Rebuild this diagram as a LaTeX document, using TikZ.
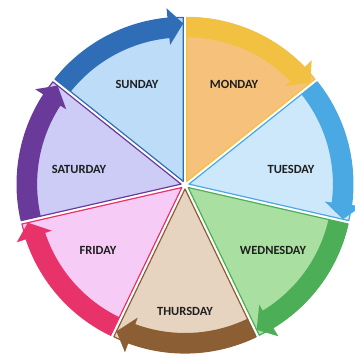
\documentclass[tikz,border=0pt]{standalone}
\usepackage{fontspec}
\setmainfont{Carlito}

\definecolor{sunarrow}{HTML}{2F6EB6}
\definecolor{sunfill}{HTML}{BCDCF8}
\definecolor{monarrow}{HTML}{F3C141}
\definecolor{monfill}{HTML}{F6C27B}
\definecolor{tuearrow}{HTML}{4AA9E3}
\definecolor{tuefill}{HTML}{CDE8FA}
\definecolor{wedarrow}{HTML}{4DAE58}
\definecolor{wedfill}{HTML}{A9DFA1}
\definecolor{thuarrow}{HTML}{8C5E33}
\definecolor{thufill}{HTML}{E6D4C0}
\definecolor{friarrow}{HTML}{E8336A}
\definecolor{frifill}{HTML}{F6CCF6}
\definecolor{satarrow}{HTML}{6A3A9B}
\definecolor{satfill}{HTML}{CCCCF6}

\tikzset{
  slicefill/.style={line width=1.2pt, line join=round},
  daylabel/.style={font=\bfseries\fontsize{12.5}{14}\selectfont, text=black!88},
}

% one slice of the wheel, pushed out a little from the middle
% #1 start angle, #2 fill colour, #3 arrow colour
\newcommand{\weekslice}[3]{%
  \begin{scope}[shift={({#1-25.714}:4)}]
    \filldraw[slicefill, fill=#2, draw=#3] (0,0) -- (#1:164)
      arc[start angle=#1, end angle={#1-51.429}, radius=164] -- cycle;
    % curved arrow on the rim, clockwise
    \fill[#3] (#1:144) -- (#1:164)
      arc[start angle=#1, end angle={#1-45.9}, radius=164]
      -- ({#1-45.9}:174) -- ({#1-51.429}:158) -- ({#1-45.9}:137) -- ({#1-45.9}:144)
      arc[start angle={#1-45.9}, end angle=#1, radius=144] -- cycle;
  \end{scope}}

\begin{document}
\begin{tikzpicture}[x=1pt, y=1pt]
      \useasboundingbox (-185,-173) rectangle (170,185);

      \weekslice{141.429}{sunfill}{sunarrow}
      \weekslice{90}{monfill}{monarrow}
      \weekslice{38.571}{tuefill}{tuearrow}
      \weekslice{-12.857}{wedfill}{wedarrow}
      \weekslice{-64.286}{thufill}{thuarrow}
      \weekslice{-115.714}{frifill}{friarrow}
      \weekslice{-167.143}{satfill}{satarrow}

      \node [daylabel] (sun) at (-48,101)  {SUNDAY};
      \node [daylabel] (mon) at (49,101)   {MONDAY};
      \node [daylabel] (tue) at (106,16)   {TUESDAY};
      \node [daylabel] (wed) at (88,-65)   {WEDNESDAY};
      \node [daylabel] (thu) at (0,-126)   {THURSDAY};
      \node [daylabel] (fri) at (-87,-65)  {FRIDAY};
      \node [daylabel] (sat) at (-106,16)  {SATURDAY};
    \end{tikzpicture}
\end{document}
